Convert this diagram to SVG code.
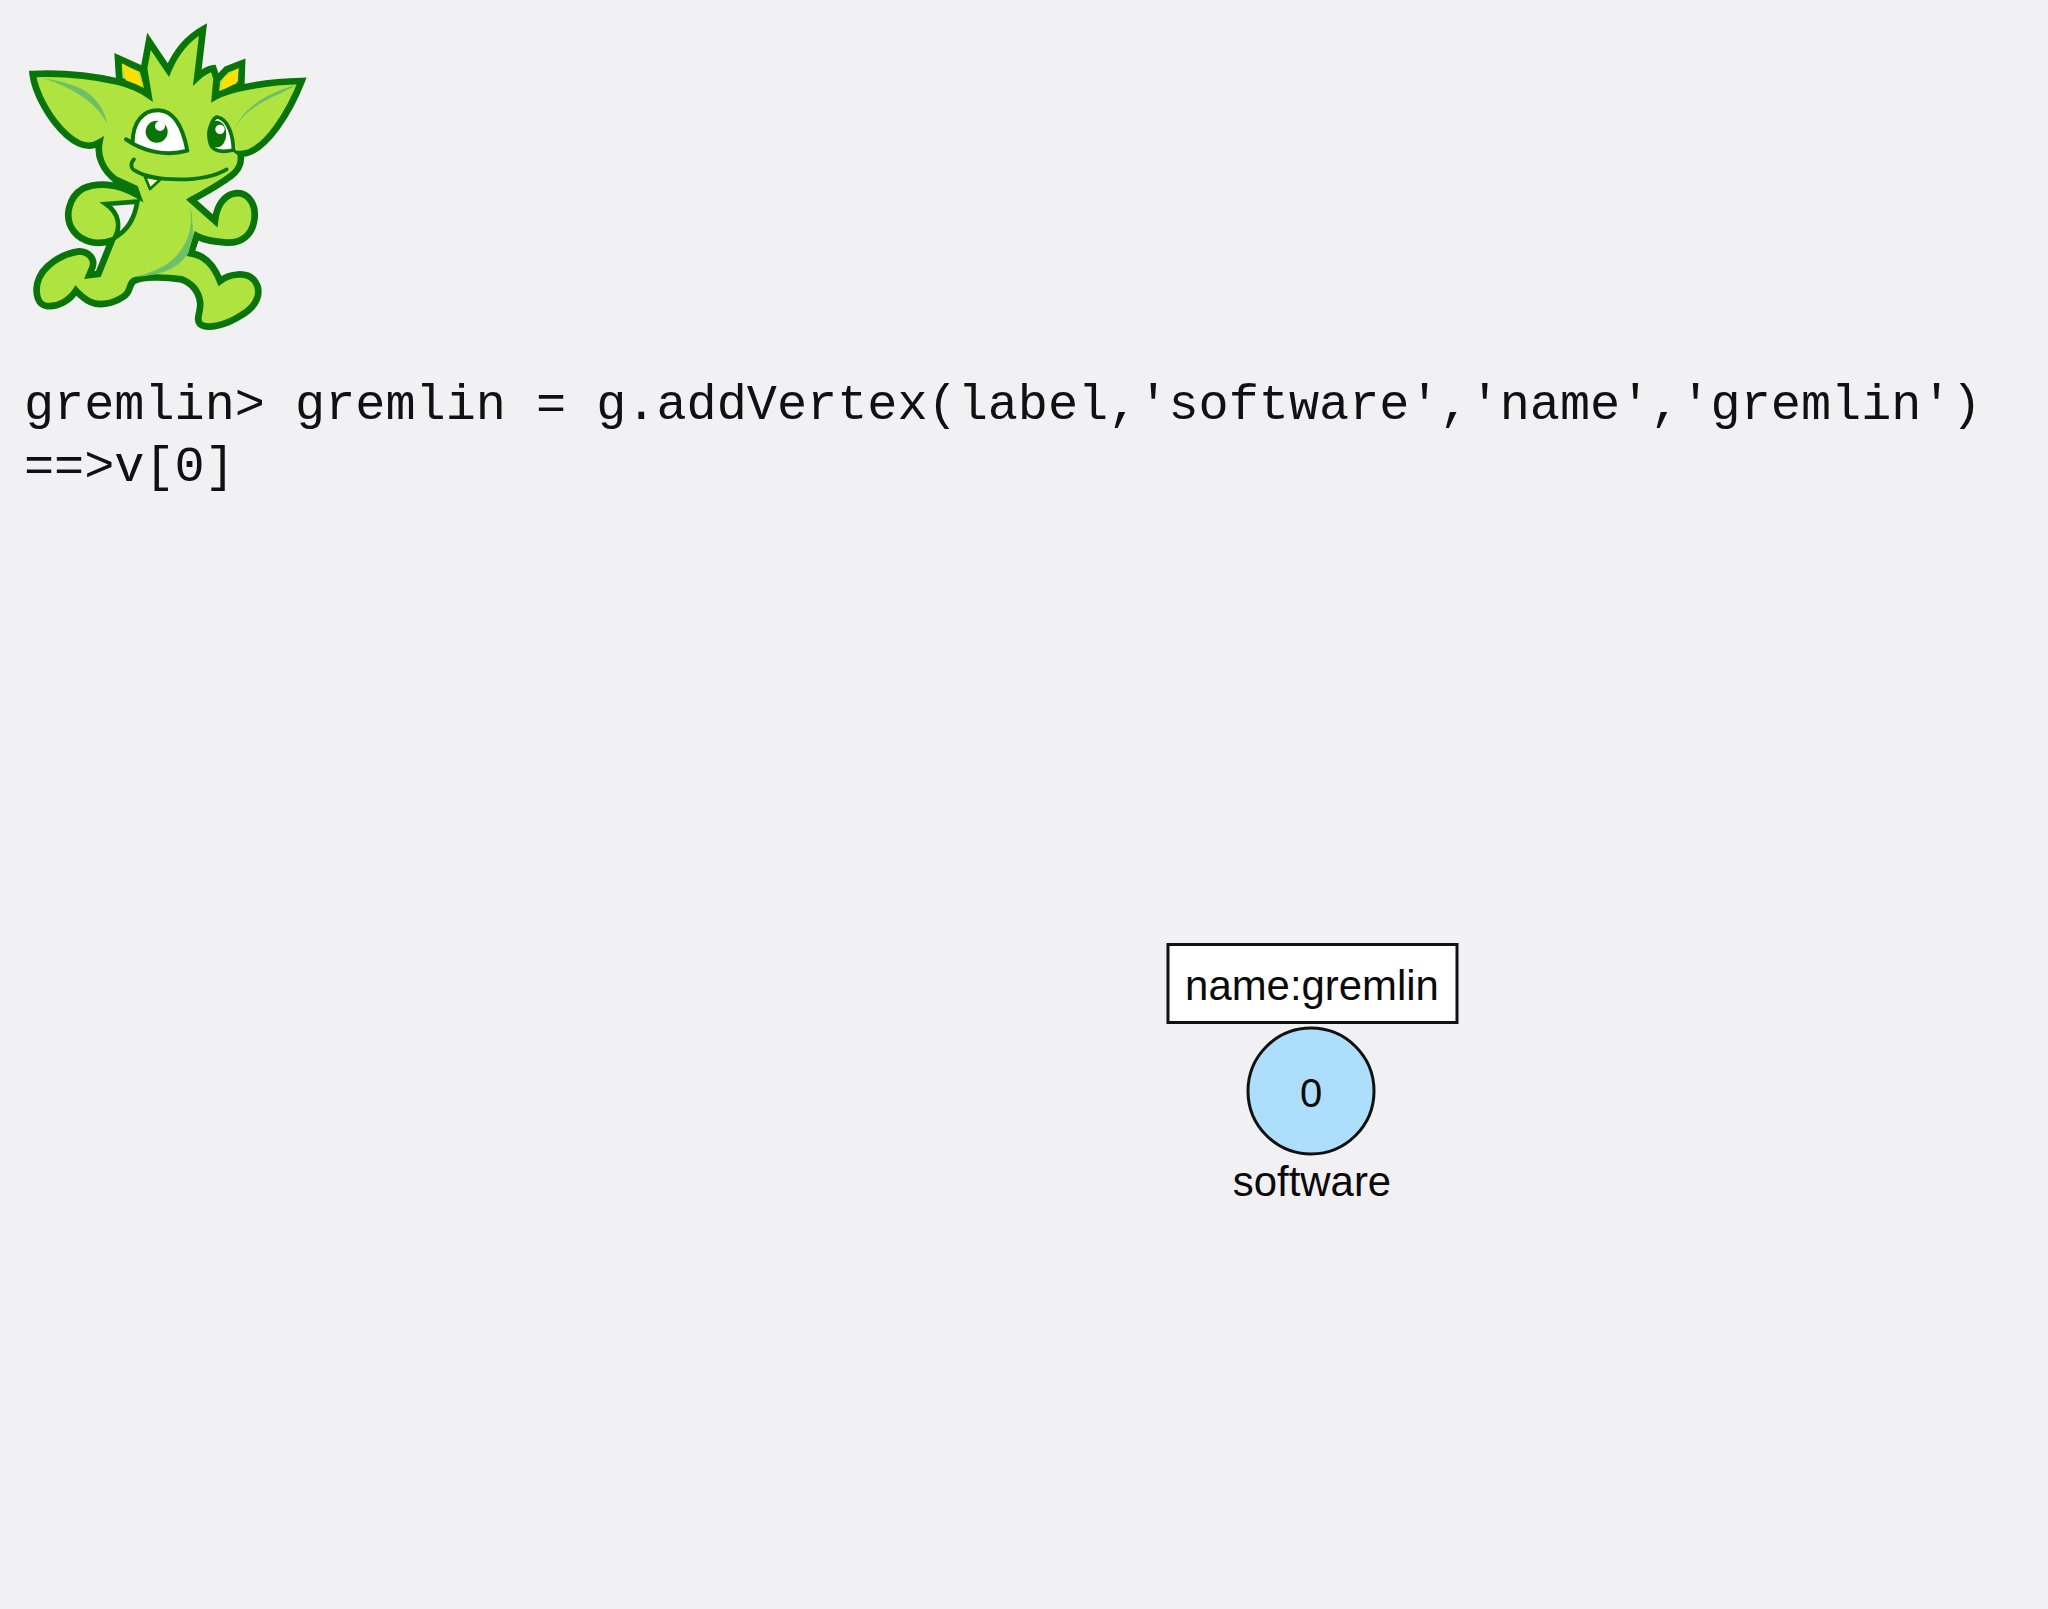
<svg xmlns="http://www.w3.org/2000/svg" width="2048" height="1609" viewBox="0 0 2048 1609">
<style>
.mono{font-family:"Liberation Mono",monospace;font-size:50.2px;fill:#111}
.sans{font-family:"Liberation Sans",Arial,sans-serif;font-size:41.9px;fill:#0a0a0a;text-anchor:middle}
.out{stroke:#097508;stroke-width:20;stroke-linejoin:miter;stroke-miterlimit:10}
.ln{stroke:#097508;fill:none;stroke-linejoin:round;stroke-linecap:round}
</style>
<rect width="2048" height="1609" fill="#f1f0f2"/>
<g id="gremlin-mascot" transform="scale(0.33333)">
<path class="out" d="M354,175 L428,208 L450,288 L358,240Z" fill="#aee340"/>
<path class="out" d="M645,295 L650,240 L680,208 L726,190 L724,250Z" fill="#aee340"/>
<path d="M366,190 L413,217 L428,260 L380,245Z" fill="#ffdf00"/>
<path d="M716,205 L710,250 L660,272 L672,232Z" fill="#ffdf00"/>
<path class="out" fill="#aee340" d="M98,222 C190,218 280,228 355,245 C395,255 425,270 445,284 L432,205 L447,124 L505,210 C530,150 570,110 609,88 L592,232 C610,215 625,207 640,205 L650,235 L645,290 C690,265 800,245 905,243 C875,320 800,460 722,462 C726,490 718,510 690,530 C650,560 610,580 575,600 L645,662 C650,620 670,585 705,580 C745,575 772,615 762,665 C755,705 725,730 680,728 C650,726 615,722 590,708 L573,760 C610,765 640,790 660,843 C690,820 740,815 762,840 C790,875 770,920 725,945 C680,975 620,990 600,972 C585,955 605,935 600,905 C595,870 575,850 545,838 C490,830 430,830 403,842 C385,850 395,875 370,890 C340,910 300,920 270,905 C250,895 240,885 228,872 C210,900 175,922 140,918 C115,915 105,885 112,850 C125,795 190,760 238,754 C265,755 285,775 278,800 L268,825 L295,822 L335,722 C300,735 250,730 222,695 C190,655 205,590 250,565 C290,548 350,548 412,585 L405,565 L345,538 C310,510 290,470 298,428 C270,445 240,440 200,405 C150,360 105,280 98,222Z"/>
<path d="M318,612 L412,605 C405,650 385,690 345,712 C362,680 358,640 318,612Z" fill="#f1f0f2" stroke="#097508" stroke-width="14" stroke-linejoin="miter"/>
<path d="M130,235 C210,262 285,300 322,372 C312,320 275,280 240,265 C200,248 165,240 130,235Z" fill="#6cc067"/>
<path d="M888,255 C830,270 735,310 704,388 C720,350 760,320 800,300 C835,282 865,270 888,255Z" fill="#6cc067"/>
<path d="M568,618 C582,680 565,740 510,785 C480,808 440,822 400,832 C470,826 520,815 553,775 L565,760 L580,705 L575,640Z" fill="#6cc067"/>
<path d="M378,418 L398,428 C398,365 430,330 475,331 C525,332 550,390 562,452 C500,470 430,455 378,418Z" fill="#fff" stroke="#097508" stroke-width="12" stroke-linejoin="round" stroke-linecap="round"/>
<circle cx="470" cy="395" r="33" fill="#097508"/>
<circle cx="480" cy="378" r="15" fill="#fff"/>
<path d="M650,351 C628,360 622,420 635,440 C650,458 680,455 700,450 C700,410 685,355 650,351Z" fill="#fff" stroke="#097508" stroke-width="11" stroke-linejoin="round"/>
<ellipse cx="650" cy="402" rx="29" ry="40" fill="#097508"/>
<path d="M636,360 L660,372 L640,440 L628,420Z" fill="#097508"/>
<circle cx="660" cy="388" r="14" fill="#fff"/>
<path d="M700,450 C708,458 716,462 722,464" class="ln" stroke-width="9"/>
<path d="M402,478 C390,490 392,505 405,512 C460,545 610,550 680,508" class="ln" stroke-width="11"/>
<path d="M435,530 L450,567 L482,538Z" fill="#f4f6c8" stroke="#097508" stroke-width="8" stroke-linejoin="round"/>
</g>
<g id="console">
<text class="mono" x="24" y="419" xml:space="preserve">gremlin&gt; gremlin = g.addVertex(label,'software','name','gremlin')</text>
<text class="mono" x="24" y="481">==&gt;v[0]</text>
</g>
<g id="connectors"></g>
<g id="node-name-property">
<rect x="1168" y="944.500" width="289" height="78" fill="#fff" stroke="#111" stroke-width="3"/>
<text class="sans" x="1312" y="1000">name:gremlin</text>
</g>
<g id="node-0">
<circle cx="1311" cy="1091" r="63" fill="#addffd" stroke="#111" stroke-width="3"/>
<text class="sans" x="1311" y="1107" style="font-size:40px">0</text>
<text class="sans" x="1312" y="1196">software</text>
</g>
</svg>
